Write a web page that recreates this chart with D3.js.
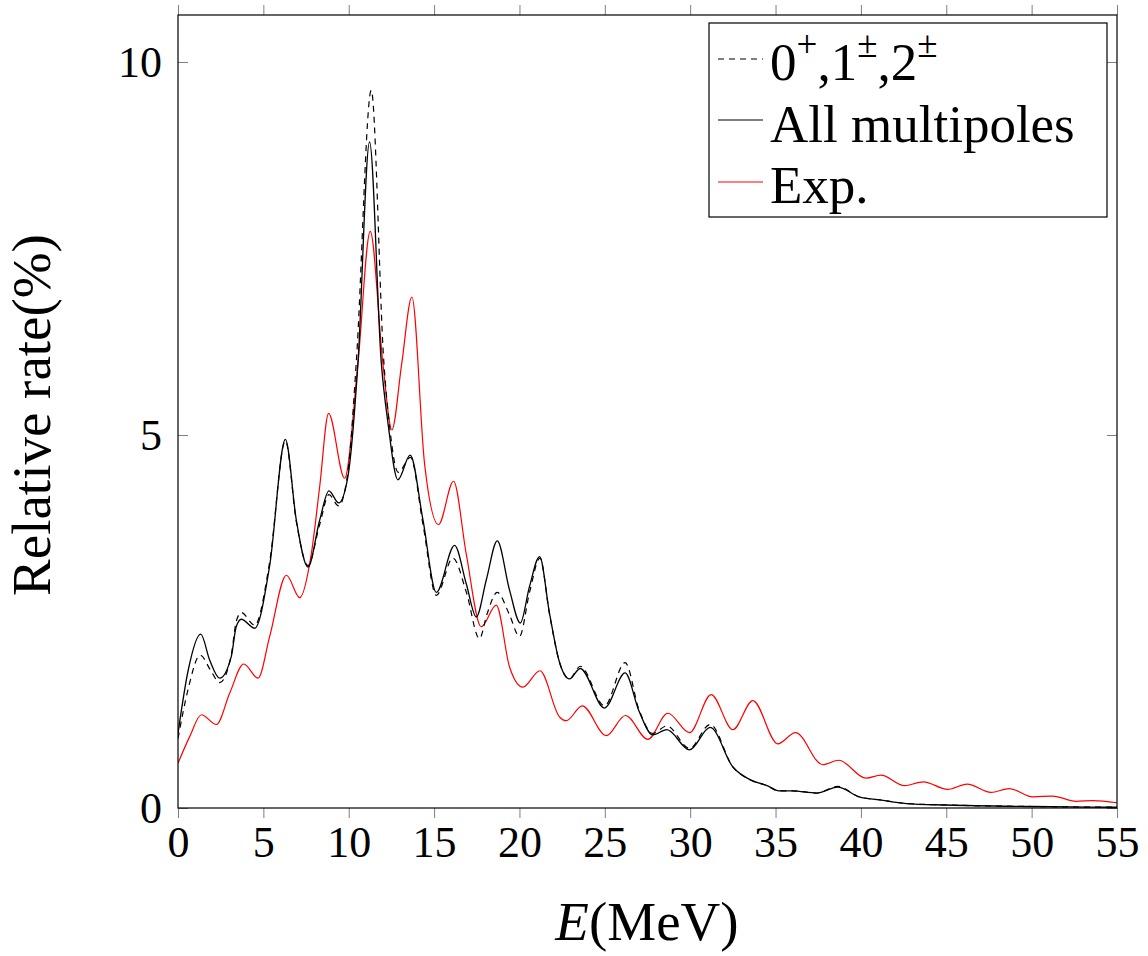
<!DOCTYPE html>
<html>
<head>
<meta charset="utf-8">
<script src="https://cdn.jsdelivr.net/npm/d3@7"></script>
<style>
  body { margin: 0; background: #fff; }
  svg { display: block; font-family: "Liberation Serif", "DejaVu Serif", serif; }
</style>
</head>
<body>
<svg id="chart" width="1148" height="956"></svg>
<script>
// data: [E (MeV), relative rate (%)]
const allMultipoles = [
  [0, 1.00], [0.6, 1.85], [1.33, 2.33], [1.86, 1.98], [2.44, 1.74], [3.12, 2.03],
  [3.41, 2.43], [3.71, 2.53], [4.49, 2.41], [5.37, 3.25], [6.29, 4.94], [6.93, 3.86],
  [7.61, 3.23], [8.3, 3.86], [8.84, 4.25], [9.41, 4.09], [9.95, 4.44], [10.54, 5.96],
  [11.22, 8.93], [11.91, 5.96], [12.3, 5.16], [12.88, 4.40], [13.6, 4.73], [14.35, 3.86],
  [15.13, 2.89], [16.2, 3.52], [16.88, 3.01], [17.47, 2.56], [18.06, 3.06], [18.7, 3.58],
  [19.42, 2.92], [20.05, 2.48], [20.59, 2.97], [21.18, 3.37], [21.76, 2.61], [22.35, 1.95],
  [22.93, 1.73], [23.56, 1.87], [24.98, 1.34], [26.19, 1.81], [27.0, 1.30], [27.81, 0.98],
  [28.63, 1.05], [29.96, 0.78], [31.17, 1.08], [32.5, 0.55], [33.5, 0.38], [34.5, 0.30],
  [35.2, 0.23], [36.0, 0.23], [37.4, 0.20], [38.64, 0.28], [39.9, 0.15], [41.1, 0.11],
  [42.65, 0.06], [45, 0.04], [50, 0.02], [55, 0.01]
];

const lowMultipoles = [
  [0, 0.93], [0.6, 1.6], [1.3, 2.05], [1.9, 1.85], [2.44, 1.68], [3.12, 2.05],
  [3.41, 2.5], [3.71, 2.62], [4.49, 2.45], [5.37, 3.3], [6.29, 4.92], [6.93, 3.84],
  [7.61, 3.25], [8.3, 3.8], [8.84, 4.2], [9.41, 4.05], [9.95, 4.5], [10.45, 6.0],
  [11.32, 9.62], [12.05, 6.0], [12.4, 5.1], [12.9, 4.5], [13.62, 4.7], [14.35, 3.8],
  [15.13, 2.85], [16.1, 3.35], [16.88, 2.9], [17.66, 2.27], [18.1, 2.6], [18.7, 2.89],
  [19.4, 2.6], [20.0, 2.30], [20.6, 2.9], [21.2, 3.35], [21.76, 2.6], [22.35, 1.95],
  [22.93, 1.73], [23.56, 1.9], [24.98, 1.37], [26.19, 1.95], [27.0, 1.32], [27.81, 1.0],
  [28.63, 1.1], [29.96, 0.8], [31.17, 1.12], [32.5, 0.55], [33.5, 0.38], [34.5, 0.30],
  [35.2, 0.23], [36.0, 0.23], [37.4, 0.20], [38.64, 0.29], [39.9, 0.15], [41.1, 0.11],
  [42.65, 0.06], [45, 0.04], [50, 0.02], [55, 0.01]
];

const experiment = [
  [0, 0.60], [0.69, 0.96], [1.37, 1.25], [2.25, 1.12], [3.03, 1.54], [3.85, 1.93],
  [4.69, 1.74], [5.37, 2.30], [6.35, 3.12], [7.13, 2.82], [7.81, 3.41], [8.3, 4.31],
  [8.82, 5.29], [9.76, 4.42], [10.54, 5.96], [11.26, 7.73], [12.0, 5.96], [12.53, 5.07],
  [13.1, 5.95], [13.7, 6.85], [14.44, 4.62], [15.26, 3.80], [16.14, 4.38], [16.88, 3.41],
  [17.76, 2.43], [18.64, 2.72], [19.42, 1.89], [20.2, 1.62], [21.2, 1.84], [22.35, 1.22],
  [22.74, 1.17], [23.68, 1.37], [25.08, 0.97], [26.21, 1.24], [27.52, 0.92], [28.69, 1.27],
  [29.96, 1.01], [31.23, 1.52], [32.5, 1.05], [33.67, 1.44], [35.13, 0.86], [36.17, 1.01],
  [37.76, 0.58], [38.7, 0.64], [40.3, 0.40], [41.18, 0.44], [42.55, 0.30], [43.66, 0.35],
  [45.08, 0.25], [46.22, 0.32], [47.62, 0.21], [48.7, 0.26], [50.06, 0.15], [51.23, 0.16],
  [52.6, 0.09], [53.6, 0.10], [55, 0.07]
];

const xTicks = [0, 5, 10, 15, 20, 25, 30, 35, 40, 45, 50, 55];
const yTicks = [0, 5, 10];

const margin = { left: 178, top: 15, right: 31, bottom: 148 };
const width = 1148 - margin.left - margin.right;
const height = 956 - margin.top - margin.bottom;

const svg = d3.select("#chart");
const g = svg.append("g")
  .attr("transform", `translate(${margin.left}, ${margin.top})`);

const xScale = d3.scaleLinear().domain([0, 55]).range([0, width]);
const yScale = d3.scaleLinear().domain([0, 10.63]).range([height, 0]);

g.append("clipPath").attr("id", "clip")
  .append("rect").attr("width", width).attr("height", height);

//axes
const tickColor = "#7f7f7f";

const xAxis = g.append("g")
  .attr("transform", `translate(0, ${height})`)
  .call(d3.axisBottom(xScale).tickValues(xTicks).tickSize(10).tickPadding(8).tickSizeOuter(0));
xAxis.selectAll("text").attr("font-size", "44px").attr("font-family", "Liberation Serif").attr("fill", "#000");

g.append("g")
  .call(d3.axisTop(xScale).tickValues(xTicks).tickSize(10).tickSizeOuter(0).tickFormat(""));

const yAxis = g.append("g")
  .call(d3.axisLeft(yScale).tickValues(yTicks).tickSize(-10).tickPadding(16).tickSizeOuter(0));
yAxis.selectAll("text").attr("font-size", "44px").attr("font-family", "Liberation Serif").attr("fill", "#000");

g.append("g")
  .attr("transform", `translate(${width}, 0)`)
  .call(d3.axisRight(yScale).tickValues(yTicks).tickSize(-10).tickSizeOuter(0).tickFormat(""));

g.selectAll(".domain").remove();
g.selectAll(".tick line").attr("stroke", tickColor).attr("stroke-width", 1);

//lines
const line = d3.line()
  .x(d => xScale(d[0]))
  .y(d => yScale(d[1]))
  .curve(d3.curveMonotoneX);

const lines = g.append("g").attr("clip-path", "url(#clip)");

lines.append("path")
  .datum(experiment)
  .attr("d", line)
  .attr("fill", "none")
  .attr("stroke", "#ff0000")
  .attr("stroke-width", 1.2);

lines.append("path")
  .datum(lowMultipoles)
  .attr("d", line)
  .attr("fill", "none")
  .attr("stroke", "#000")
  .attr("stroke-width", 1.2)
  .attr("stroke-dasharray", "6,5");

lines.append("path")
  .datum(allMultipoles)
  .attr("d", line)
  .attr("fill", "none")
  .attr("stroke", "#000")
  .attr("stroke-width", 1.3);

//frame
g.append("rect")
  .attr("width", width)
  .attr("height", height)
  .attr("fill", "none")
  .attr("stroke", "#000")
  .attr("stroke-width", 1.2);

//axis titles
svg.append("text")
  .attr("transform", "translate(50, 415) rotate(-90)")
  .attr("text-anchor", "middle")
  .attr("font-size", "55px")
  .text("Relative rate(%)");

const xTitle = svg.append("text")
  .attr("x", 647)
  .attr("y", 940)
  .attr("text-anchor", "middle")
  .attr("font-size", "55px");
xTitle.append("tspan").attr("font-style", "italic").text("E");
xTitle.append("tspan").text("(MeV)");

//legend
const legend = svg.append("g");
legend.append("rect")
  .attr("x", 709).attr("y", 23)
  .attr("width", 398).attr("height", 194)
  .attr("fill", "#fff")
  .attr("stroke", "#000")
  .attr("stroke-width", 1.2);

const legendItems = [
  { y: 59, base: 80, color: "#000", dash: "6,5" },
  { y: 120, base: 142, color: "#000", dash: null, label: "All multipoles" },
  { y: 182, base: 203, color: "#ff0000", dash: null, label: "Exp." }
];

legendItems.forEach((item, i) => {
  legend.append("line")
    .attr("x1", 718).attr("x2", 763)
    .attr("y1", item.y).attr("y2", item.y)
    .attr("stroke", item.color)
    .attr("stroke-width", 1.2)
    .attr("stroke-dasharray", item.dash);

  const t = legend.append("text")
    .attr("x", 770)
    .attr("y", item.base)
    .attr("font-size", "53px");

  if (i === 0) {
    // 0+,1±,2± with raised signs
    t.append("tspan").text("0");
    t.append("tspan").attr("font-size", "37px").attr("dy", -23).text("+");
    t.append("tspan").attr("dy", 23).text(",1");
    t.append("tspan").attr("font-size", "37px").attr("dy", -23).text("±");
    t.append("tspan").attr("dy", 23).text(",2");
    t.append("tspan").attr("font-size", "37px").attr("dy", -23).text("±");
  } else {
    t.text(item.label);
  }
});
</script>
</body>
</html>
